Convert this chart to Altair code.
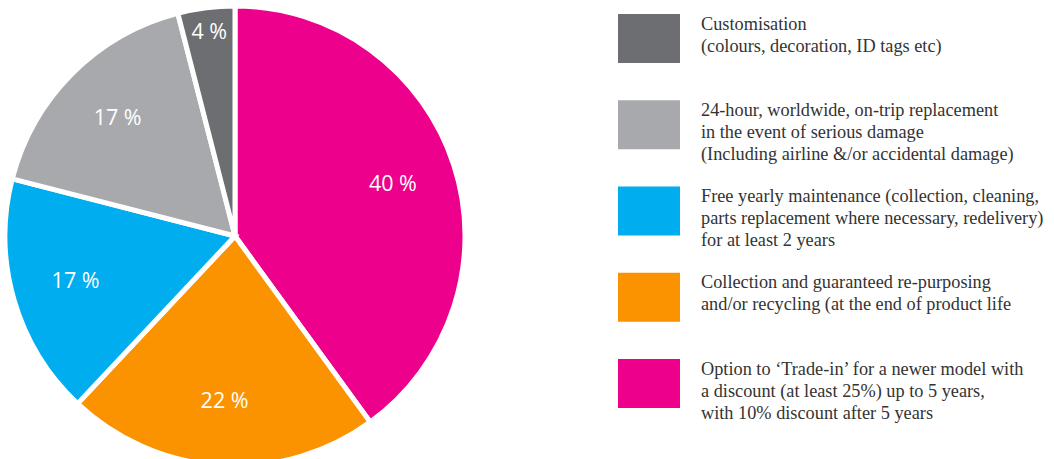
import altair as alt
import pandas as pd

# Pie order (clockwise from 12 o'clock)
categories = [
    "Option to \u2018Trade-in\u2019 for a newer model with\na discount (at least 25%) up to 5 years,\nwith 10% discount after 5 years",
    "Collection and guaranteed re-purposing\nand/or recycling (at the end of product life",
    "Free yearly maintenance (collection, cleaning,\nparts replacement where necessary, redelivery)\nfor at least 2 years",
    "24-hour, worldwide, on-trip replacement\nin the event of serious damage\n(Including airline &/or accidental damage)",
    "Customisation\n(colours, decoration, ID tags etc)",
]
values = [40, 22, 17, 17, 4]
colors = ["#ec008c", "#fb9200", "#00aeef", "#a7a9ac", "#6d6e71"]

df = pd.DataFrame({
    "cat": categories,
    "value": values,
    "order": list(range(len(categories))),
})
df["label"] = df["value"].astype(str) + " %"

legend_order = categories[::-1]

color = alt.Color("cat:N", scale=alt.Scale(domain=categories, range=colors), legend=None)
cx, cy = 235, 236

base = alt.Chart(df)

arcs = base.mark_arc(outerRadius=230, stroke="white", strokeWidth=5).encode(
    theta=alt.Theta("value:Q", stack=True),
    order=alt.Order("order:Q"),
    color=color,
    x=alt.value(cx), y=alt.value(cy),
)

big_labels = base.transform_filter("datum.value >= 10").mark_text(
    radius=166, font="Open Sans", fontSize=21.5, color="white"
).encode(
    theta=alt.Theta("value:Q", stack=True),
    order=alt.Order("order:Q"),
    text="label:N",
    x=alt.value(cx), y=alt.value(cy),
)

small_labels = base.mark_text(
    radius=205, font="Open Sans", fontSize=21.5, color="white"
).encode(
    theta=alt.Theta("value:Q", stack=True),
    order=alt.Order("order:Q"),
    text=alt.condition("datum.value < 10", "label:N", alt.value("")),
    x=alt.value(cx), y=alt.value(cy),
)

yscale = alt.Scale(domain=legend_order, type="point", range=[38.5, 383.5], padding=0)

swatches = base.mark_rect(height=49).encode(
    y=alt.Y("cat:N", scale=yscale, axis=None),
    x=alt.value(618), x2=alt.value(680),
    color=color,
)

texts = base.mark_text(
    align="left", baseline="middle", lineBreak="\n", font="Liberation Serif",
    fontSize=18.3, lineHeight=22, color="#333333", dy=-14
).encode(
    y=alt.Y("cat:N", scale=yscale, axis=None),
    x=alt.value(701),
    text="cat:N",
)

chart = alt.layer(arcs, big_labels, small_labels, swatches, texts).properties(
    width=1054, height=459, padding=0, autosize=alt.AutoSizeParams(type="none")
).configure_view(stroke=None)

chart.save("out.html", embed_options={"renderer": "svg", "actions": False})
